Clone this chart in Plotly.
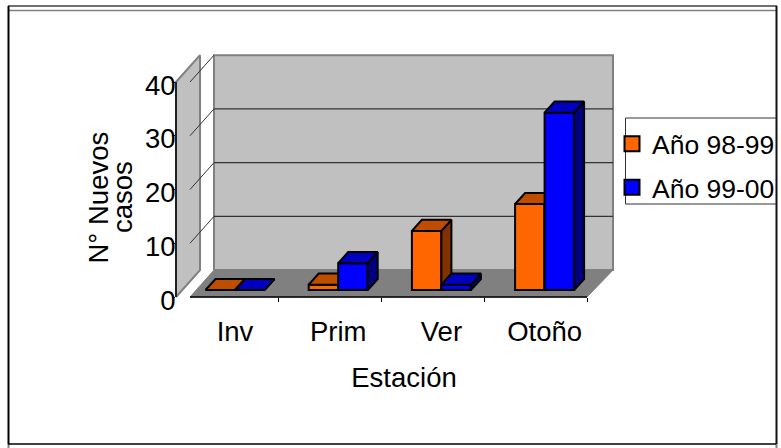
import plotly.graph_objects as go

# ---- data ----
categories = ["Inv", "Prim", "Ver", "Otoño"]
serie_98_99 = [0, 1, 11, 16]
serie_99_00 = [0, 5, 1, 33]
series_names = ["Año 98-99", "Año 99-00"]
y_ticks = [0, 10, 20, 30, 40]

# ---- page / geometry ----
W, H = 781, 448
FONT = "Liberation Sans"
FS = 27.5
PX_X = 103.2          # px per category
PX_Y = 5.375          # px per value unit
X0_PX = 235           # px of first category centre
Y0_PX = 297           # px of value 0 on the front plane
AX_L, AX_R, AX_B, AX_T = 175, 633, 312, 50   # axis box in px


def ux(px):
    return (px - X0_PX) / PX_X


def px2x(px):
    return px / W


def px2y(px):
    return 1 - px / H


x_range = [ux(AX_L), ux(AX_R)]
y_range = [(Y0_PX - AX_B) / PX_Y, (Y0_PX - AX_T) / PX_Y]

BAR_W = 29.5 / PX_X
BAR_BASE = 1.3        # bars stand a little behind the front edge of the floor
BAR_DX = 10 / PX_X
BAR_DY = 2.05
WALL_D = 5.0          # depth of the floor in value units
top_val = max(y_ticks)

FL_FL, FL_FR, FL_BL, FL_BR = ux(190), ux(587), ux(214), ux(613)
LW_F, LW_B = ux(176), ux(200)


def poly(points):
    xs = [p[0] for p in points] + [points[0][0]]
    ys = [p[1] for p in points] + [points[0][1]]
    return xs, ys


fig = go.Figure()


def add_poly(points, fill, line, width, xa="x", ya="y"):
    xs, ys = poly(points)
    fig.add_trace(go.Scatter(x=xs, y=ys, mode="lines", fill="toself", fillcolor=fill,
                             line=dict(color=line, width=width), cliponaxis=False,
                             hoverinfo="skip", showlegend=False, xaxis=xa, yaxis=ya))


def add_line(xs, ys, color, width):
    fig.add_trace(go.Scatter(x=xs, y=ys, mode="lines", line=dict(color=color, width=width),
                             cliponaxis=False, hoverinfo="skip", showlegend=False))


# walls and floor
GRAY = "#C0C0C0"
DARK = "#808080"
add_poly([(FL_BL, WALL_D), (FL_BR, WALL_D), (FL_BR, WALL_D + top_val), (FL_BL, WALL_D + top_val)], GRAY, DARK, 2)
add_poly([(LW_F, 0), (LW_B, WALL_D), (LW_B, WALL_D + top_val), (LW_F, top_val)], GRAY, DARK, 2)
add_poly([(FL_FL, 0), (FL_FR, 0), (FL_BR, WALL_D), (FL_BL, WALL_D)], DARK, DARK, 1)
add_line([FL_FL, FL_FR], [0, 0], "#000000", 1.5)
add_line([LW_F, LW_F], [0, top_val], "#000000", 1.5)
for v in y_ticks[1:]:
    add_line([FL_FL, FL_BL], [v, v + WALL_D], "#333333", 1)
    if v < top_val:
        add_line([FL_BL, FL_BR], [v + WALL_D, v + WALL_D], "#333333", 1.2)


def add_series(values, name, front, top, side, offset, xa, ya):
    pos = list(range(len(values)))
    fig.add_trace(go.Bar(x=pos, y=values, base=BAR_BASE, width=BAR_W, offset=offset, name=name,
                         marker=dict(color=front, line=dict(color="#000000", width=2)),
                         cliponaxis=False, showlegend=False, xaxis=xa, yaxis=ya))
    for p, v in zip(pos, values):
        x0 = p + offset
        x1 = x0 + BAR_W
        b = BAR_BASE
        add_poly([(x1, b), (x1 + BAR_DX, b + BAR_DY), (x1 + BAR_DX, b + BAR_DY + v), (x1, b + v)],
                 side, "#000000", 2, xa, ya)
        add_poly([(x0, b + v), (x1, b + v), (x1 + BAR_DX, b + v + BAR_DY), (x0 + BAR_DX, b + v + BAR_DY)],
                 top, "#000000", 2, xa, ya)


add_series(serie_98_99, series_names[0], "#FF6600", "#BF4D00", "#803300", -BAR_W, "x2", "y2")
add_series(serie_99_00, series_names[1], "#0000FF", "#0000BF", "#000080", 0, "x3", "y3")

# legend entries
for name, col in zip(series_names, ["#FF6600", "#0000FF"]):
    fig.add_trace(go.Scatter(x=[None], y=[None], mode="markers", name=name, legendgroup=name,
                             marker=dict(symbol="square", size=15, color=col,
                                         line=dict(color="#000000", width=2))))

# frame + legend box
frame = [
    (8, 6, 777, 6, "#404040", 1.5),
    (8, 10.5, 777, 10.5, "#808080", 1.5),
    (8.5, 6, 8.5, 444, "#000000", 2),
    (8.5, 444, 8.5, 448, "#808080", 2),
    (776.5, 6, 776.5, 444, "#111111", 2),
    (776.5, 444, 776.5, 448, "#808080", 2),
    (8, 444, 776, 444, "#000000", 1.5),
    (625.5, 118, 776, 118, "#333333", 1),
    (625.5, 204, 776, 204, "#333333", 1),
    (625.5, 118, 625.5, 204, "#333333", 1),
]
shapes = [dict(type="line", xref="paper", yref="paper", x0=px2x(a), y0=px2y(b), x1=px2x(c), y1=px2y(d),
               line=dict(color=col, width=w), layer="below") for a, b, c, d, col, w in frame]

x_dom = [px2x(AX_L), px2x(AX_R)]
y_dom = [px2y(AX_B), px2y(AX_T)]
hidden = dict(visible=False, fixedrange=True)

fig.update_layout(
    template="none",
    width=W, height=H, autosize=False,
    margin=dict(l=0, r=0, t=0, b=0, pad=0),
    paper_bgcolor="#FFFFFF", plot_bgcolor="rgba(0,0,0,0)",
    font=dict(family=FONT, size=FS, color="#000000"),
    barmode="overlay", shapes=shapes,
    xaxis=dict(domain=x_dom, range=x_range, anchor="free", position=px2y(Y0_PX), showgrid=False, zeroline=False,
               showline=False, automargin=False, tickmode="array", tickvals=list(range(len(categories))), ticktext=categories,
               ticks="", ticklabelstandoff=15,
               minor=dict(tickmode="array", tickvals=[i + 0.42 for i in range(len(categories))],
                          ticks="outside", ticklen=4, tickcolor="#000000", tickwidth=1, showgrid=False),
               title=dict(text="Estación", standoff=22, font=dict(size=FS))),
    yaxis=dict(domain=y_dom, range=y_range, anchor="free", position=px2x(AX_L), showgrid=False, zeroline=False,
               showline=False, automargin=False, tickmode="array", tickvals=y_ticks, ticks="outside", ticklen=3,
               tickcolor="#000000", ticklabelstandoff=-9, ticklabelshift=3),
    xaxis2=dict(overlaying="x", range=x_range, **hidden, anchor="y2"),
    yaxis2=dict(overlaying="y", range=y_range, **hidden, anchor="x2"),
    xaxis3=dict(overlaying="x", range=x_range, **hidden, anchor="y3"),
    yaxis3=dict(overlaying="y", range=y_range, **hidden, anchor="x3"),
    legend=dict(x=px2x(612), y=px2y(120), xanchor="left", yanchor="top", bgcolor="rgba(0,0,0,0)",
                borderwidth=0, font=dict(size=26.5), tracegroupgap=6, itemwidth=30, traceorder="grouped"),
    annotations=[
        dict(text="N° Nuevos", xref="paper", yref="paper", x=px2x(98), y=px2y(197.5), showarrow=False,
             textangle=-90, font=dict(size=FS), xanchor="center", yanchor="middle"),
        dict(text="casos", xref="paper", yref="paper", x=px2x(122.5), y=px2y(197.5), showarrow=False,
             textangle=-90, font=dict(size=FS), xanchor="center", yanchor="middle"),
    ],
)

fig.write_html("out.html", config=dict(displayModeBar=False),
               post_script="document.body.style.margin='0';document.body.style.overflow='hidden';")
